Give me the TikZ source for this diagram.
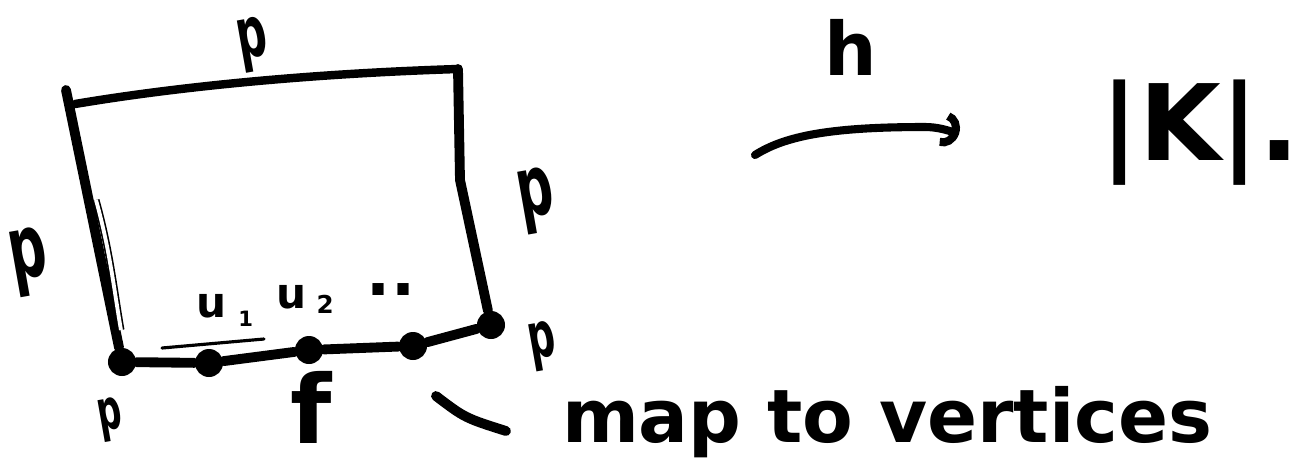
\documentclass[tikz,border=0pt]{standalone}
\usepackage{fontspec}
\setmainfont{DejaVu Sans}
\usetikzlibrary{arrows.meta}
\newcommand{\fsz}[1]{\fontsize{#1}{#1}\selectfont}
\newcommand{\narrowp}{\scalebox{0.6}[1]{p}}
\begin{document}
\begin{tikzpicture}[x=0.01cm,y=-0.01cm,
  lbl/.style={font=\bfseries, inner sep=0pt, outer sep=0pt},
  pl/.style={lbl, rotate=10},
  edge/.style={line width=2.8pt, line cap=round, line join=round},
  thinline/.style={line width=0.9pt, line cap=round},
  vdot/.style={circle, fill=black, inner sep=0pt, minimum size=0.28cm},
  harrow/.style={line width=2.3pt, line cap=round, -{Arc Barb[length=4.5pt,width=10pt]}}]
\useasboundingbox (0,0) rectangle (1305,469);
\fill[white] (0,0) rectangle (1305,469);

% corners of the square
\coordinate (tlA) at (66,90);
\coordinate (tl) at (75,104);
\coordinate (tr) at (458,69);
\coordinate (rk) at (460,180);
% vertices on the bottom edge
\node[vdot] (v0) at (122,362) {};
\node[vdot] (v1) at (209,363) {};
\node[vdot] (v2) at (309,350) {};
\node[vdot] (v3) at (413,346) {};
\node[vdot] (v4) at (491,325) {};

% edges of the square
\draw[edge] (tlA) -- (v0);
\draw[edge, line width=2.4pt] (tl) .. controls (170,88) and (300,74) .. (tr);
\draw[edge] (tr) -- (rk) -- (v4);
\draw[edge] (v0) -- (v1) -- (v2) -- (v3) -- (v4);

% thin strokes
\coordinate (dl1) at (96,200);
\coordinate (dl2) at (121,330);
\draw[line width=0.45pt, double=white, double distance=1.1pt] (dl1) .. controls (110,250) and (114,290) .. (dl2);
\coordinate (ul1) at (162,348);
\coordinate (ul2) at (264,339);
\draw[thinline] (ul1) -- (ul2);

% labels p
\node[pl, font=\bfseries\fsz{20}] (ptop) at (253,45) {\narrowp};
\node[pl, font=\bfseries\fsz{25}] (pleft) at (29,262) {\narrowp};
\node[pl, font=\bfseries\fsz{24}] (pright) at (537,201) {\narrowp};
\node[pl, font=\bfseries\fsz{18}] (pbr) at (543,346) {\narrowp};
\node[pl, font=\bfseries\fsz{16}] (pbl) at (111,420) {\narrowp};

% u labels
\node[lbl, font=\bfseries\fsz{12}, anchor=base west] (u1) at (196,317) {u\hspace{3.5pt}\raisebox{-2.8pt}{\fsz{6}1}};
\node[lbl, font=\bfseries\fsz{12}, anchor=base west] (u2) at (276,308) {u\hspace{3pt}\raisebox{-1.5pt}{\fsz{7}2}};
\node[lbl, font=\bfseries\fsz{18}, anchor=base] (dots) at (391,295) {..};

% f
\node[lbl, font=\bfseries\fsz{27}] (f) at (311,407) {f};

% map to vertices
\coordinate (m1) at (436,396);
\coordinate (m2) at (506,431);
\draw[edge] (m1) .. controls (465,418) .. (m2);
\node[lbl, font=\bfseries\fsz{21}, anchor=base west] (map) at (562,442) {map to vertices};

% arrow h
\coordinate (ha) at (755,155);
\coordinate (hb) at (959,134);
\draw[harrow] (ha) .. controls (785,136) and (830,127) .. (925,127) .. controls (937,127) and (947,130) .. (hb);
\node[lbl, font=\bfseries\fsz{21}, anchor=base] (h) at (851,75) {h};

% |K|.
\node[lbl, font=\bfseries\fsz{30}, anchor=base] (K) at (1200,160) {|K|.};
\end{tikzpicture}
\end{document}
